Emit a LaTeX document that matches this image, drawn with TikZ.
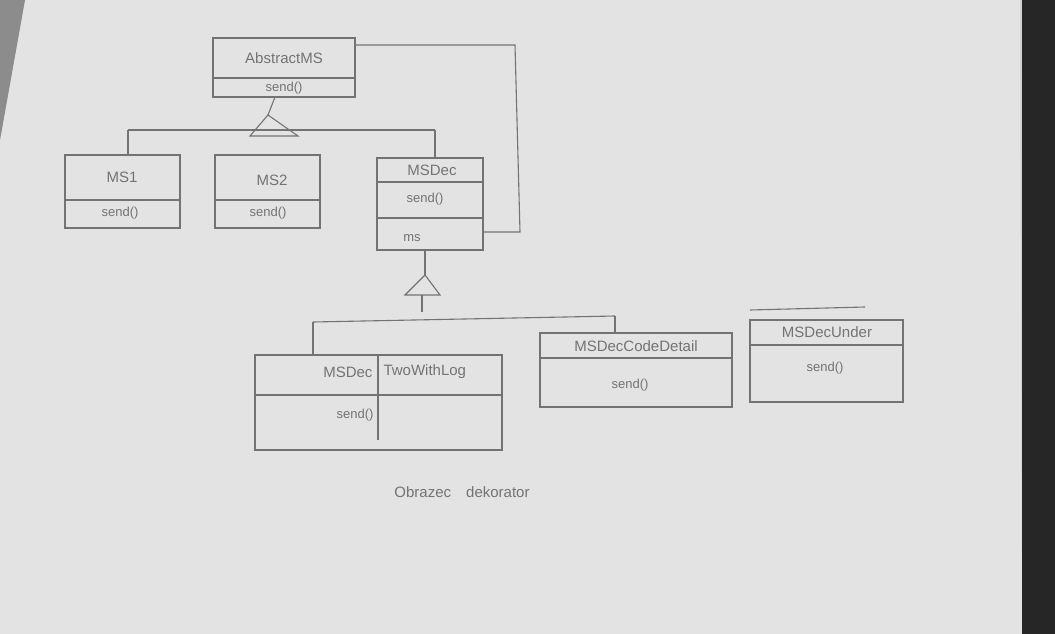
\documentclass[tikz,border=0pt]{standalone}
\usepackage{fontspec}
\setmainfont{Liberation Sans}
\begin{document}
\begin{tikzpicture}[x=1pt,y=-1pt,
  pencil/.style={draw=black!55,line width=1.1pt},
  lbl/.style={text=black!55,font=\fontsize{15}{15}\selectfont},
  small/.style={text=black!55,font=\fontsize{13}{13}\selectfont}]
\useasboundingbox (0,0) rectangle (1055,634);
% photo background
\fill[black!18] (0,0) rectangle (1055,634);
\fill[black!11] (25,0) -- (1020,0) -- (1022,634) -- (0,634) -- (0,140) -- cycle;
\fill[black!45] (0,0) -- (25,0) -- (0,140) -- cycle;
\fill[black!85] (1022,0) rectangle (1055,634);

% AbstractMS
\draw[pencil] (213,38) rectangle (355,97);
\draw[pencil] (213,78) -- (355,78);
\node[lbl] (absn) at (284,58) {AbstractMS};
\node[small] (absm) at (284,88) {send()};
\coordinate (absb) at (275,97);

% aggregation line MSDec -> AbstractMS
\coordinate (aggA) at (355,45);
\coordinate (aggB) at (483,232);
\draw[pencil] (aggA) -- (515,45) -- (520,232) -- (aggB);

% inheritance 1
\coordinate (tri1) at (268,115);
\draw[pencil] (absb) -- (tri1);
\draw[pencil] (tri1) -- (298,136) -- (250,136) -- cycle;
\draw[pencil] (128,130) -- (435,130);

% MS1
\draw[pencil] (65,155) rectangle (180,228);
\draw[pencil] (65,200) -- (180,200);
\node[lbl] (ms1) at (122,177) {MS1};
\node[small] (ms1m) at (120,213) {send()};
\draw[pencil] (128,130) -- (128,155);

% MS2
\draw[pencil] (215,155) rectangle (320,228);
\draw[pencil] (215,200) -- (320,200);
\node[lbl] (ms2) at (272,180) {MS2};
\node[small] (ms2m) at (268,213) {send()};

% MSDec
\draw[pencil] (377,158) rectangle (483,250);
\draw[pencil] (377,182) -- (483,182);
\draw[pencil] (377,218) -- (483,218);
\node[lbl] (msd) at (432,170) {MSDec};
\node[small] (msdm) at (425,199) {send()};
\node[small] (msdf) at (412,238) {ms};
\draw[pencil] (435,130) -- (435,158);

% inheritance 2
\coordinate (msdb) at (425,250);
\coordinate (tri2) at (425,275);
\draw[pencil] (msdb) -- (tri2);
\draw[pencil] (tri2) -- (440,295) -- (405,295) -- cycle;
\draw[pencil] (422,295) -- (422,312);
\draw[pencil] (313,322) -- (615,316);
\draw[pencil] (313,322) -- (313,355);
\draw[pencil] (615,316) -- (615,333);
\draw[pencil] (750,310) -- (865,307);

% MSDecA
\draw[pencil] (255,355) rectangle (502,450);
\draw[pencil] (255,395) -- (502,395);
\draw[pencil] (378,355) -- (378,440);
\node[lbl,anchor=east] (da1) at (376,372) {MSDec};
\node[lbl,anchor=west] (da2) at (380,372) {TwoWithLog};
\node[small] (dam) at (355,415) {send()};

% MSDecB
\draw[pencil] (540,333) rectangle (732,407);
\draw[pencil] (540,358) -- (732,358);
\node[lbl] (db) at (636,346) {MSDecCodeDetail};
\node[small] (dbm) at (630,385) {send()};

% MSDecC
\draw[pencil] (750,320) rectangle (903,402);
\draw[pencil] (750,345) -- (903,345);
\node[lbl] (dc) at (827,332) {MSDecUnder};
\node[small] (dcm) at (825,368) {send()};

% caption
\node[lbl] (cap) at (462,492) {Obrazec\quad dekorator};
\end{tikzpicture}
\end{document}
